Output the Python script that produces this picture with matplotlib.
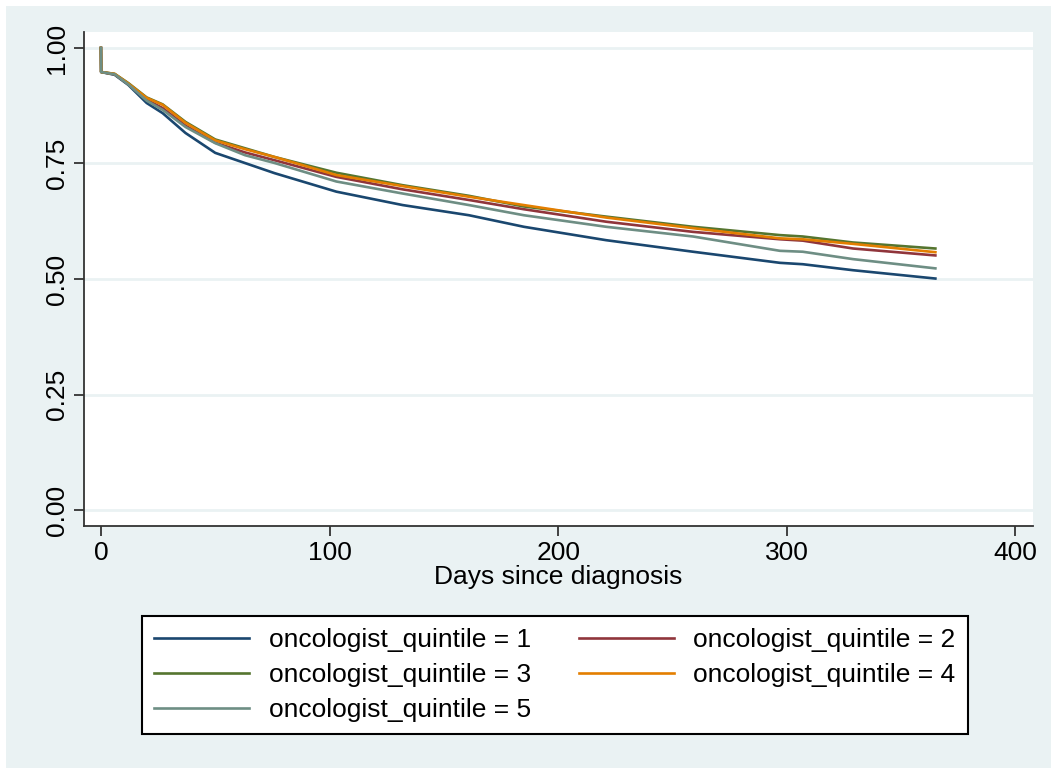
import numpy as np
import matplotlib.pyplot as plt
from matplotlib.patches import Rectangle

plt.rcParams['font.family'] = ['Liberation Sans', 'DejaVu Sans']

# Kaplan-Meier estimates
days = [0, 0.1, 6, 12, 20, 27, 37, 50, 63, 76, 103, 132, 161, 185, 221, 259, 297, 307, 329, 365]
q1 = [1.0, 0.948, 0.942, 0.920, 0.881, 0.859, 0.816, 0.773, 0.751, 0.729, 0.689, 0.660, 0.638, 0.613, 0.584, 0.559, 0.535, 0.532, 0.519, 0.501]
q2 = [1.0, 0.948, 0.943, 0.922, 0.888, 0.870, 0.832, 0.795, 0.774, 0.757, 0.721, 0.694, 0.671, 0.651, 0.624, 0.602, 0.586, 0.583, 0.566, 0.551]
q3 = [1.0, 0.948, 0.944, 0.924, 0.893, 0.878, 0.840, 0.802, 0.783, 0.764, 0.730, 0.703, 0.680, 0.657, 0.635, 0.613, 0.595, 0.592, 0.579, 0.566]
q4 = [1.0, 0.948, 0.944, 0.923, 0.892, 0.877, 0.838, 0.800, 0.781, 0.764, 0.725, 0.701, 0.678, 0.660, 0.633, 0.610, 0.588, 0.586, 0.576, 0.558]
q5 = [1.0, 0.948, 0.943, 0.921, 0.886, 0.866, 0.829, 0.794, 0.768, 0.751, 0.711, 0.685, 0.660, 0.638, 0.613, 0.592, 0.561, 0.559, 0.543, 0.523]

labels = ['oncologist_quintile = %d' % i for i in range(1, 6)]
colors = ['#1A476F', '#90353B', '#55752F', '#E37E00', '#6E8E84']
xticks = [0, 100, 200, 300, 400]
yticks = [0.0, 0.25, 0.5, 0.75, 1.0]

bg = '#EAF2F3'
fig = plt.figure(figsize=(10.51, 7.68), dpi=100)
fig.patch.set_facecolor('white')
fig.patches.append(Rectangle((6 / 1051, 0), 1, 1 - 6 / 768, transform=fig.transFigure,
                             facecolor=bg, edgecolor='none', zorder=-10))

ax = fig.add_axes([84 / 1051, 1 - 526 / 768, (1033 - 84) / 1051, (526 - 32) / 768])
ax.set_facecolor('white')

for y, c, lab in zip([q1, q2, q3, q4, q5], colors, labels):
    ax.plot(days, y, color=c, lw=1.9, label=lab)

ax.set_xlim(-7.4, 407.7)
ax.set_ylim(-0.0346, 1.0346)
ax.set_xticks(xticks)
ax.set_yticks(yticks)
ax.set_yticklabels(['%.2f' % v for v in yticks], rotation=90, va='center')
ax.tick_params(labelsize=19, length=7, width=1.3, color='#333333')
ax.grid(axis='y', color=bg, lw=2)
ax.set_axisbelow(True)
for s in ['top', 'right']:
    ax.spines[s].set_visible(False)
for s in ['left', 'bottom']:
    ax.spines[s].set_color('#333333')
    ax.spines[s].set_linewidth(1.3)
ax.set_xlabel('Days since diagnosis', fontsize=19, labelpad=0)

h, l = ax.get_legend_handles_labels()
order = [0, 2, 4, 1, 3]
leg = fig.legend([h[i] for i in order], [l[i] for i in order], ncol=2, loc='center',
                 bbox_to_anchor=(555 / 1051, 1 - 675 / 768), fontsize=19,
                 handlelength=3.6, handletextpad=0.75, columnspacing=1.8,
                 labelspacing=0.42, borderpad=0.45, fancybox=False,
                 edgecolor='black', framealpha=1)
leg.get_frame().set_linewidth(1.5)

fig.savefig('out.png', dpi=100, facecolor=fig.get_facecolor())
